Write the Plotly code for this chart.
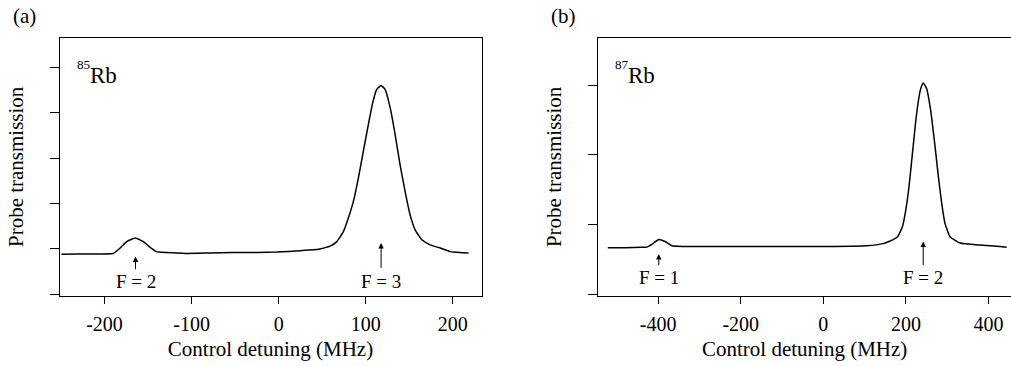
import plotly.graph_objects as go
from plotly.subplots import make_subplots

# ---------------- data ----------------
# Panel (a): 85Rb
a_detuning = [-249.5, -230, -205, -190, -182, -174.6, -164.4, -155.5, -148, -140.4,
              -128.7, -106, -80, -52, -25, -2.3, 24.5, 39.7, 47.5, 59.0, 66.7, 74.3,
              80.0, 85.7, 91.5, 97.2, 103.0, 108.0, 112.6, 117.6, 122.2, 128.0, 133.7,
              139.4, 145.2, 150.9, 156.7, 164.4, 174.0, 185.4, 197, 208, 218]
a_transmission = [0.88, 0.89, 0.89, 0.90, 1.02, 1.16, 1.24, 1.16, 1.04, 0.94,
                  0.92, 0.90, 0.91, 0.92, 0.92, 0.93, 0.96, 0.98, 1.00, 1.06, 1.16, 1.38,
                  1.68, 2.04, 2.56, 3.15, 3.74, 4.22, 4.51, 4.60, 4.51, 4.11, 3.52,
                  2.85, 2.26, 1.75, 1.42, 1.20, 1.09, 1.02, 0.94, 0.92, 0.91]

# Panel (b): 87Rb
b_detuning = [-522, -480, -440, -427.6, -415.5, -398.5, -383, -367, -340, -298.5,
              -220, -137, -60, 24, 105, 145, 159, 180, 192, 200, 208, 216, 224, 232,
              237, 242.1, 250.4, 260, 270.5, 278.5, 286.7, 294.7, 306.8, 331.0, 379.4,
              427.8, 444]
b_transmission = [0.67, 0.67, 0.68, 0.68, 0.72, 0.79, 0.76, 0.70, 0.69, 0.69,
                  0.69, 0.69, 0.69, 0.69, 0.70, 0.73, 0.76, 0.83, 0.98, 1.22, 1.57, 2.03, 2.49, 2.84,
                  2.97, 3.03, 2.95, 2.64, 2.13, 1.70, 1.31, 1.02, 0.83, 0.74, 0.71,
                  0.69, 0.68]

a_xticks = [-200, -100, 0, 100, 200]
a_xticklabels = ["-200", "-100", "0", "100", "200"]
a_yticks = [0, 1, 2, 3, 4, 5]
b_xticks = [-400, -200, 0, 200, 400]
b_xticklabels = ["-400", "-200", "0", "200", "400"]
b_yticks = [0, 1, 2, 3]

# hyperfine markers: (label, detuning, arrow tail, arrow tip, label y)
a_markers = [("F = 2", -164.4, 0.52, 0.83, 0.28), ("F = 3", 117.6, 0.55, 1.13, 0.29)]
b_markers = [("F = 1", -398.5, 0.40, 0.58, 0.245), ("F = 2", 242.0, 0.40, 0.76, 0.245)]

# ---------------- figure ----------------
W, H = 1011, 366
FONT = "Liberation Serif"

fig = make_subplots(rows=1, cols=2)

fig.add_trace(go.Scatter(x=a_detuning, y=a_transmission, mode="lines",
                         line=dict(color="black", width=1.5, shape="spline", smoothing=0.4),
                         showlegend=False), row=1, col=1)
fig.add_trace(go.Scatter(x=b_detuning, y=b_transmission, mode="lines",
                         line=dict(color="black", width=1.5, shape="spline", smoothing=0.4),
                         showlegend=False), row=1, col=2)

ydom = [(H - 296) / H, (H - 37.7) / H]

common_x = dict(showline=True, linecolor="black", linewidth=1, ticks="outside",
                ticklen=7, tickwidth=1, tickcolor="black", showgrid=False, zeroline=False,
                automargin=False, ticklabelstandoff=3,
                tickfont=dict(family=FONT, size=20, color="black"),
                title=dict(text="Control detuning (MHz)",
                           font=dict(family=FONT, size=21, color="black"), standoff=7))
common_y = dict(showline=True, linecolor="black", linewidth=1, ticks="outside",
                ticklen=9, tickwidth=1, tickcolor="black", showgrid=False, zeroline=False,
                showticklabels=False, automargin=False,
                title=dict(text="Probe transmission",
                           font=dict(family=FONT, size=21, color="black"), standoff=20))

fig.update_layout(
    template="none",
    xaxis=dict(common_x, domain=[59.5 / W, 481.5 / W], range=[-251.7, 232.9],
               tickvals=a_xticks, ticktext=a_xticklabels, mirror=True),
    yaxis=dict(common_y, domain=ydom, range=[-0.037, 5.65], tickvals=a_yticks, mirror=True),
    xaxis2=dict(common_x, domain=[598.3 / W, 1.0], range=[-545, 454.6],
                tickvals=b_xticks, ticktext=b_xticklabels, mirror=True),
    yaxis2=dict(common_y, domain=ydom, range=[-0.02, 3.68], tickvals=b_yticks, mirror=False),
    width=W, height=H,
    margin=dict(l=0, r=0, t=0, b=0, autoexpand=False),
    plot_bgcolor="white", paper_bgcolor="white",
    font=dict(family=FONT, color="black"),
)

# arrows and F labels
for (markers, xr, yr) in [(a_markers, "x", "y"), (b_markers, "x2", "y2")]:
    for label, xpos, tail, tip, ylab in markers:
        fig.add_annotation(x=xpos, y=tip, ax=xpos, ay=tail, xref=xr, yref=yr,
                           axref=xr, ayref=yr, text="", showarrow=True,
                           arrowhead=2, arrowsize=1.1, arrowwidth=1, arrowcolor="black")
        fig.add_annotation(x=xpos, y=ylab, xref=xr, yref=yr, text=label, showarrow=False,
                           font=dict(family=FONT, size=19, color="black"),
                           xanchor="center", yanchor="middle")

# isotope labels
for sup, sx, rx in [("85", 75 / W, 88 / W), ("87", 613 / W, 626 / W)]:
    fig.add_annotation(x=sx, y=1 - 65 / H, xref="paper", yref="paper", text=sup,
                       showarrow=False, xanchor="left", yanchor="middle",
                       font=dict(family=FONT, size=13, color="black"))
    fig.add_annotation(x=rx, y=1 - 75 / H, xref="paper", yref="paper", text="Rb",
                       showarrow=False, xanchor="left", yanchor="middle",
                       font=dict(family=FONT, size=23, color="black"))

# panel labels
for lab, px in [("(a)", 11), ("(b)", 549)]:
    fig.add_annotation(x=px / W, y=1 - 16 / H, xref="paper", yref="paper", text=lab,
                       showarrow=False, xanchor="left", yanchor="middle",
                       font=dict(family=FONT, size=21, color="black"))

fig.write_html("out.html", config={"displayModeBar": False},
               post_script="document.body.style.margin='0';document.body.style.overflow='hidden';")
